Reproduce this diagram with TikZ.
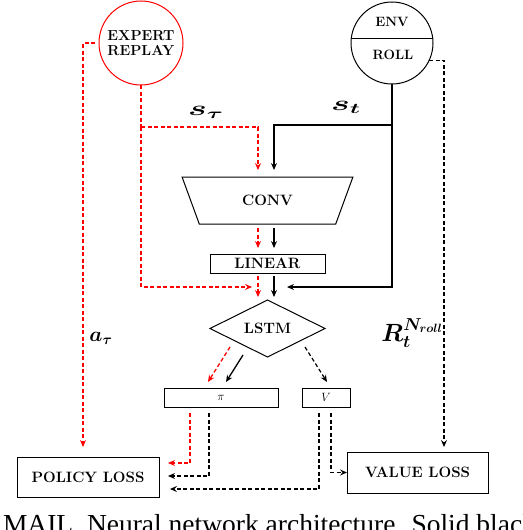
\documentclass[tikz,border=0pt]{standalone}
\usepackage{amsmath,bm,graphicx}
\usepackage{fontspec}
\newfontfamily\capfont{Liberation Serif}
\usetikzlibrary{shapes.geometric,arrows.meta,calc}
\begin{document}
\begin{tikzpicture}[x=1pt,y=-1pt,
  every node/.style={inner sep=0pt,outer sep=0pt},
  lbl/.style={font=\fontsize{15}{17}\selectfont\bfseries},
  envlbl/.style={font=\fontsize{13.5}{15}\selectfont\bfseries},
  boxnode/.style={draw,line width=1pt,rectangle},
  tip/.style={-{Stealth[length=7pt,width=6pt,inset=2.5pt]}},
  redl/.style={draw=red,line width=1.3pt,dash pattern=on 4pt off 2.5pt},
  blk/.style={draw=black,line width=1.3pt},
  blkd/.style={draw=black,line width=1.2pt,dash pattern=on 4pt off 2.5pt},
  mlbl/.style={font=\fontsize{21}{24}\selectfont}
]
\useasboundingbox (0,0) rectangle (522,530);

% nodes
\node[circle,draw=red,line width=1pt,minimum size=84pt,align=center,
      font=\fontsize{14.5}{16}\selectfont\bfseries] (exp) at (141,43) {EXPERT\\[-1pt]REPLAY};
\node[circle,draw,line width=1pt,minimum size=82pt] (env) at (392,43) {};
\node[envlbl] (envt) at (392,22) {ENV};
\node[envlbl] (rollt) at (393,55) {ROLL};
\draw[line width=0.8pt] (env.173) -- (env.7);

\node[trapezium,draw,line width=1pt,shape border rotate=180,trapezium stretches=true,
      trapezium left angle=59,trapezium right angle=59,
      minimum width=171pt,minimum height=47pt,lbl] (conv) at (267.5,200.5) {CONV};
\node[boxnode,minimum width=115pt,minimum height=19pt,lbl] (lin) at (267.5,263.5) {LINEAR};
\node[diamond,draw,line width=1pt,minimum width=115pt,minimum height=57pt,aspect=2,lbl] (lstm) at (267.5,328.5) {LSTM};
\node[boxnode,minimum width=114pt,minimum height=19pt,font=\fontsize{12.5}{14}\selectfont] (pi) at (221,397.5) {$\pi$};
\node[boxnode,minimum width=48pt,minimum height=19pt,font=\fontsize{12.5}{14}\selectfont] (v) at (326,397.5) {$V$};
\node[boxnode,minimum width=142pt,minimum height=40pt,lbl] (ploss) at (88,477) {POLICY LOSS};
\node[boxnode,minimum width=141pt,minimum height=41pt,lbl] (vloss) at (417.5,472.5) {VALUE LOSS};

% labels
\node[font=\fontsize{20}{24}\selectfont] (stau) at (206,112) {\scalebox{1.7}[1]{$\boldsymbol{s_{\tau}}$}};
\node[font=\fontsize{20}{24}\selectfont] (st) at (346,107) {\scalebox{1.7}[1]{$\boldsymbol{s_{t}}$}};
\node[mlbl] (atau) at (101,338) {$\boldsymbol{a_{\tau}}$};
\node[font=\fontsize{24}{28}\selectfont,anchor=east] (rt) at (443,333) {$\boldsymbol{R_t^{N_{roll}}}$};

% coordinates
\coordinate (r1) at (141,127);
\coordinate (rc) at (258,170);
\coordinate (ra) at (252,287);
\coordinate (rl0) at (95,43);
\coordinate (rl) at (83,447);
\coordinate (bj) at (392,125);
\coordinate (bc) at (274,170);
\coordinate (ba) at (287,287);
\coordinate (dv) at (444,447);

% red connectors
\draw[redl] (exp.south) -- (r1);
\draw[redl,tip,red] (r1) -| (rc);
\draw[redl,tip,red] (r1) |- (ra);
\draw[redl,tip,red] (rl0) -| (rl);
\draw[redl,tip,red] (258,228) -- (258,248);
\draw[redl,tip,red] (258,276) -- (258,297);
\draw[redl,tip,red] (230,347) -- (208,382);
\draw[redl,tip,red] (190,413) |- (168,463);

% black solid
\draw[blk,tip] (env.south) |- (ba);
\draw[blk,tip] (bj) -| (bc);
\draw[blk,tip] (274,228) -- (274,248);
\draw[blk,tip] (274,276) -- (274,297);
\draw[blk,tip] (243,355) -- (226,382);

% black dashed
\draw[blkd,tip] (env.-25) -| (dv);
\draw[blkd,tip] (305,347) -- (327,382);
\draw[blkd,tip] (209,413) |- (168,476);
\draw[blkd,tip] (319,413) |- (170,489);
\draw[blkd,tip] (331,413) |- (vloss.west);

% caption (cut at the edge, as in the reference)
\node[anchor=base west,font=\capfont\fontsize{27.5}{30}\selectfont] (cap) at (3,533) {MAIL. Neural network architecture. Solid black};
\end{tikzpicture}
\end{document}
